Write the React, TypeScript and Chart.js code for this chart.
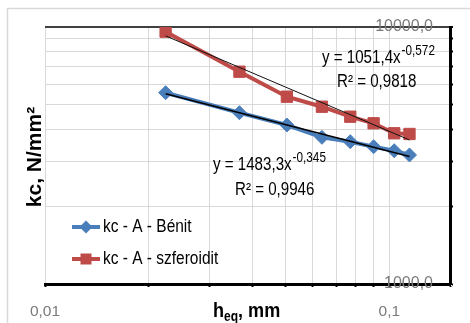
import React, { useEffect, useRef } from 'react';
import { Chart, registerables } from 'chart.js';

Chart.register(...registerables);

// ---- data ----
const hEq = [0.0224, 0.0367, 0.0504, 0.0637, 0.077, 0.09, 0.1033, 0.1144];
const kcBenit = [5550, 4640, 4156, 3722, 3578, 3421, 3301, 3177];
const kcSzferoidit = [9588, 6699, 5356, 4896, 4477, 4220, 3859, 3835];
const trendX = [0.0224, 0.1144];
const trendBenit = [5500, 3134];
const trendSzferoidit = [9234, 3634];
const xTickValues = [0.01, 0.02, 0.03, 0.04, 0.05, 0.06, 0.07, 0.08, 0.09, 0.1, 0.15];
const yTickValues = [1000, 2000, 3000, 4000, 5000, 6000, 7000, 8000, 9000, 10000];
const xTickLabels = ['0,01', '', '', '', '', '', '', '', '', '0,1', ''];
const yTickLabels = ['1000,0', '', '', '', '', '', '', '', '', '10000,0'];
const seriesNames = ['kc - A - Bénit', 'kc - A - szferoidit'];
const eqBenit = ['y = 1483,3x', '-0,345', 'R² = 0,9946'];
const eqSzferoidit = ['y = 1051,4x', '-0,572', 'R² = 0,9818'];
const yTitle = 'kc, N/mm²';
const xTitle = ['h', 'eq', ', mm'];

const FONT = '"Liberation Sans", Arial, sans-serif';
const BLUE = '#4A7EBB';
const RED = '#BE4B48';

// draw horizontally condensed text; returns the drawn width
const txt = (ctx: any, s: string, x: number, y: number, size: number, bold: boolean, sx: number) => {
  ctx.save();
  ctx.font = `${bold ? 'bold ' : ''}${size}px ${FONT}`;
  ctx.translate(x, y);
  ctx.scale(sx, 1);
  ctx.fillText(s, 0, 0);
  const w = ctx.measureText(s).width * sx;
  ctx.restore();
  return w;
};

const decoPlugin = {
  id: 'deco',
  beforeDraw(chart: any) {
    const ctx = chart.ctx;
    ctx.save();
    ctx.strokeStyle = '#d9d9d9';
    ctx.lineWidth = 1.5;
    ctx.strokeRect(7.5, 8.5, 600, 500);
    ctx.restore();
  },
  afterDraw(chart: any) {
    const ctx = chart.ctx;
    ctx.save();
    ctx.fillStyle = '#000';
    // y title
    ctx.save();
    ctx.translate(35, 157);
    ctx.rotate(-Math.PI / 2);
    ctx.font = `bold 21px ${FONT}`;
    ctx.textAlign = 'center';
    ctx.textBaseline = 'middle';
    ctx.fillText(yTitle, 0, 0);
    ctx.restore();
    // x title
    ctx.textBaseline = 'alphabetic';
    ctx.textAlign = 'left';
    let x = 213;
    x += txt(ctx, xTitle[0], x, 317, 21, true, 0.86);
    x += txt(ctx, xTitle[1], x, 321, 14, true, 0.86);
    txt(ctx, xTitle[2], x, 317, 21, true, 0.86);

    // equations
    const drawEq = (eq: string[], x0: number, y0: number, x1: number, y1: number) => {
      ctx.textBaseline = 'middle';
      const w = txt(ctx, eq[0], x0, y0, 18, false, 0.84);
      txt(ctx, eq[1], x0 + w + 1, y0 - 7, 14, false, 0.84);
      txt(ctx, eq[2], x1, y1, 18, false, 0.84);
    };
    drawEq(eqSzferoidit, 322, 58, 337, 82);
    drawEq(eqBenit, 213, 165, 235, 190);

    // legend
    const items = [
      { name: seriesNames[0], color: BLUE, style: 'rectRot', y: 227 },
      { name: seriesNames[1], color: RED, style: 'rect', y: 259 },
    ];
    items.forEach((it) => {
      ctx.strokeStyle = it.color;
      ctx.lineWidth = 4;
      ctx.beginPath();
      ctx.moveTo(72, it.y);
      ctx.lineTo(100, it.y);
      ctx.stroke();
      ctx.fillStyle = it.color;
      ctx.beginPath();
      if (it.style === 'rect') {
        ctx.rect(86 - 5.5, it.y - 5.5, 11, 11);
      } else {
        ctx.moveTo(86, it.y - 6.5);
        ctx.lineTo(92.5, it.y);
        ctx.lineTo(86, it.y + 6.5);
        ctx.lineTo(79.5, it.y);
        ctx.closePath();
      }
      ctx.fill();
      ctx.fillStyle = '#000';
      ctx.textBaseline = 'middle';
      txt(ctx, it.name, 103, it.y, 18, false, 0.86);
    });
    ctx.restore();
  },
};

const near = (a: number, b: number) => Math.abs(a - b) < 1e-9 * Math.max(1, Math.abs(b));

export default function App() {
  const ref = useRef<HTMLCanvasElement | null>(null);
  useEffect(() => {
    if (!ref.current) return;
    const toPts = (xs: number[], ys: number[]) => xs.map((v, i) => ({ x: v, y: ys[i] }));
    const chart = new Chart(ref.current, {
      type: 'line',
      data: {
        datasets: [
          {
            label: 'trend ' + seriesNames[0],
            data: toPts(trendX, trendBenit),
            borderColor: '#000',
            borderWidth: 1.5,
            pointRadius: 0,
            order: 0,
          },
          {
            label: 'trend ' + seriesNames[1],
            data: toPts(trendX, trendSzferoidit),
            borderColor: '#111',
            borderWidth: 1,
            pointRadius: 0,
            order: 0,
          },
          {
            label: seriesNames[0],
            data: toPts(hEq, kcBenit),
            borderColor: BLUE,
            backgroundColor: BLUE,
            borderWidth: 4,
            pointStyle: 'rectRot',
            pointRadius: 7,
            pointBorderWidth: 1,
            order: 1,
          },
          {
            label: seriesNames[1],
            data: toPts(hEq, kcSzferoidit),
            borderColor: RED,
            backgroundColor: RED,
            borderWidth: 4,
            pointStyle: 'rect',
            pointRadius: 8,
            pointBorderWidth: 1,
            order: 1,
          },
        ],
      },
      options: {
        animation: false,
        responsive: false,
        devicePixelRatio: 1,
        layout: { padding: { left: 45, top: 27, right: 0, bottom: 0 } },
        plugins: { legend: { display: false }, tooltip: { enabled: false } },
        scales: {
          x: {
            type: 'logarithmic',
            position: 'bottom',
            min: 0.01,
            max: 0.15,
            afterBuildTicks: (s: any) => {
              s.ticks = xTickValues.map((v) => ({ value: v }));
            },
            afterFit: (s: any) => {
              s.height = 39;
              s.paddingLeft = 0;
              s.paddingRight = 0;
            },
            grid: {
              color: (c: any) => (c.tick && near(c.tick.value, 0.15) ? 'rgba(0,0,0,0)' : '#d9d9d9'),
              lineWidth: 1,
              drawTicks: true,
              tickLength: 3,
              tickColor: '#000',
              tickWidth: 2,
            },
            border: { display: true, color: '#000', width: 3 },
            ticks: {
              autoSkip: false,
              maxRotation: 0,
              padding: 15,
              color: '#7a7a7a',
              font: { family: FONT, size: 15.5 },
              callback: (_v: any, i: number) => xTickLabels[i] ?? '',
            },
          },
          y: {
            type: 'logarithmic',
            position: 'right',
            min: 1000,
            max: 10000,
            afterBuildTicks: (s: any) => {
              s.ticks = yTickValues.map((v) => ({ value: v }));
            },
            afterFit: (s: any) => {
              s.width = 20;
              s.paddingTop = 0;
              s.paddingBottom = 0;
            },
            grid: {
              color: (c: any) =>
                c.tick && c.tick.value === 10000 ? '#404040' : c.tick && c.tick.value === 1000 ? 'rgba(0,0,0,0)' : '#d9d9d9',
              lineWidth: (c: any) => (c.tick && c.tick.value === 10000 ? 2 : 1),
              drawTicks: true,
              tickLength: 3,
              tickColor: '#000',
              tickWidth: 2,
            },
            border: { display: true, color: '#000', width: 3 },
            ticks: {
              mirror: true,
              padding: -17,
              autoSkip: false,
              color: '#7a7a7a',
              font: { family: FONT, size: 16 },
              callback: (_v: any, i: number) => yTickLabels[i] ?? '',
            },
          },
        },
      },
      plugins: [decoPlugin],
    });
    return () => chart.destroy();
  }, []);
  return (
    <div style={{ position: 'fixed', left: 0, top: 0, width: 470, height: 323, background: '#fff' }}>
      <canvas ref={ref} width={470} height={323} style={{ width: 470, height: 323 }} />
    </div>
  );
}
